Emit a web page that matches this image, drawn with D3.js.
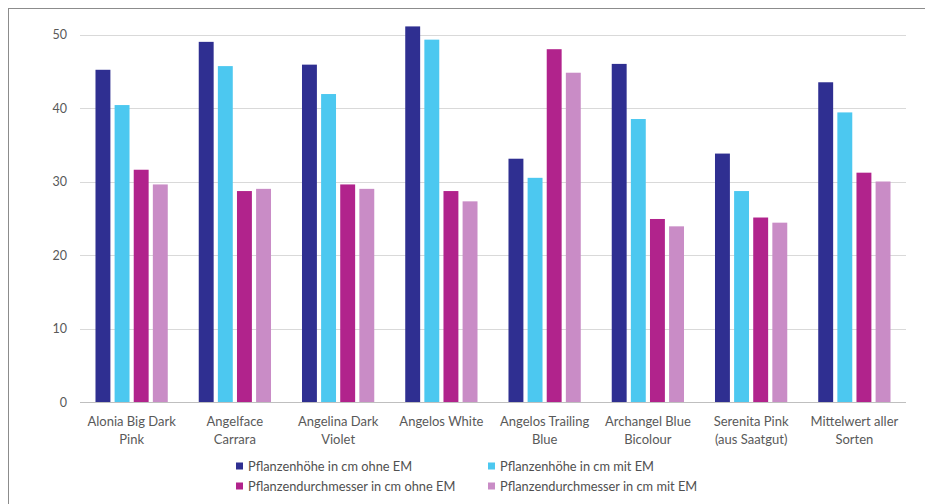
<!DOCTYPE html>
<html><head><meta charset="utf-8">
<script src="https://cdn.jsdelivr.net/npm/d3@7"></script>
<style>body{margin:0;background:#fff;}svg{display:block;font-family:Lato,"Open Sans",sans-serif;}</style>
</head><body>
<svg id="c" width="925" height="504"></svg>
<script>
const categories = [["Alonia Big Dark","Pink"],["Angelface","Carrara"],["Angelina Dark","Violet"],["Angelos White"],["Angelos Trailing","Blue"],["Archangel Blue","Bicolour"],["Serenita Pink","(aus Saatgut)"],["Mittelwert aller","Sorten"]];
const seriesNames = ["Pflanzenhöhe in cm ohne EM","Pflanzenhöhe in cm mit EM","Pflanzendurchmesser in cm ohne EM","Pflanzendurchmesser in cm mit EM"];
const hoeheOhne = [45.2,49.0,45.9,51.1,33.1,46.0,33.8,43.5];
const hoeheMit = [40.4,45.7,41.9,49.3,30.5,38.5,28.7,39.4];
const durchOhne = [31.6,28.7,29.6,28.7,48.0,24.9,25.1,31.2];
const durchMit = [29.6,29.0,29.0,27.3,44.8,23.9,24.4,30.0];
const yTicks = [0,10,20,30,40,50];
const colors = ["#2f2f91","#4cc8f0","#b1238c","#c98cc6"];

const series = [hoeheOhne,hoeheMit,durchOhne,durchMit];
const svg = d3.select("#c");
svg.append("rect").attr("x",8.5).attr("y",8.5).attr("width",930).attr("height",510)
  .attr("fill","none").attr("stroke","#8c8c8c").attr("stroke-width",1);

const x0 = d3.scaleBand().domain(d3.range(categories.length)).range([80,906]).paddingInner(0.3).paddingOuter(0.15);
const x1 = d3.scaleBand().domain(d3.range(series.length)).range([0,x0.bandwidth()]).paddingInner(0.22);
const y = d3.scaleLinear().domain([0,50]).range([402,34.5]);

const grid = svg.append("g");
grid.selectAll("line").data(yTicks).join("line")
  .attr("x1",80).attr("x2",906).attr("y1",d=>Math.round(y(d))+0.5).attr("y2",d=>Math.round(y(d))+0.5)
  .attr("stroke",d=>d===0?"#bfbfbf":"#d9d9d9").attr("stroke-width",1.2);

const yAxis = d3.axisLeft(y).tickValues(yTicks).tickSize(0).tickPadding(0);
const ya = svg.append("g").attr("transform","translate(67,0)").call(yAxis);
ya.select(".domain").remove();
ya.selectAll("text").attr("fill","#595959").style("font-size","12.5px").style("font-family","Lato,sans-serif");

const groups = svg.append("g").selectAll("g").data(categories).join("g")
  .attr("transform",(d,i)=>`translate(${x0(i)},0)`);
groups.selectAll("rect").data((d,i)=>series.map((s,j)=>({j,v:s[i]}))).join("rect")
  .attr("x",d=>x1(d.j)).attr("width",x1.bandwidth())
  .attr("y",d=>y(d.v)).attr("height",d=>y(0)-y(d.v))
  .attr("fill",d=>colors[d.j]);

const xAxis = d3.axisBottom(x0).tickSize(0).tickFormat(()=>"");
const xa = svg.append("g").attr("transform","translate(0,402)").call(xAxis);
xa.select(".domain").remove();
xa.selectAll(".tick").each(function(d){
  const t = d3.select(this).append("text").attr("fill","#595959").attr("text-anchor","middle")
    .style("font-size","13px").style("font-family","Lato,sans-serif");
  categories[d].forEach((line,k)=>t.append("tspan").attr("x",0).attr("y",24+k*17.5).text(line));
});

const legPos = [[236,466],[488,466],[236,486],[488,486]];
const leg = svg.append("g").selectAll("g").data(seriesNames).join("g")
  .attr("transform",(d,i)=>`translate(${legPos[i][0]},${legPos[i][1]})`);
leg.append("rect").attr("x",0).attr("y",-3.5).attr("width",7).attr("height",7).attr("fill",(d,i)=>colors[i]);
leg.append("text").attr("x",12).attr("y",4.5).attr("fill","#505050").style("font-size","12.8px").text(d=>d);
</script>
</body></html>
